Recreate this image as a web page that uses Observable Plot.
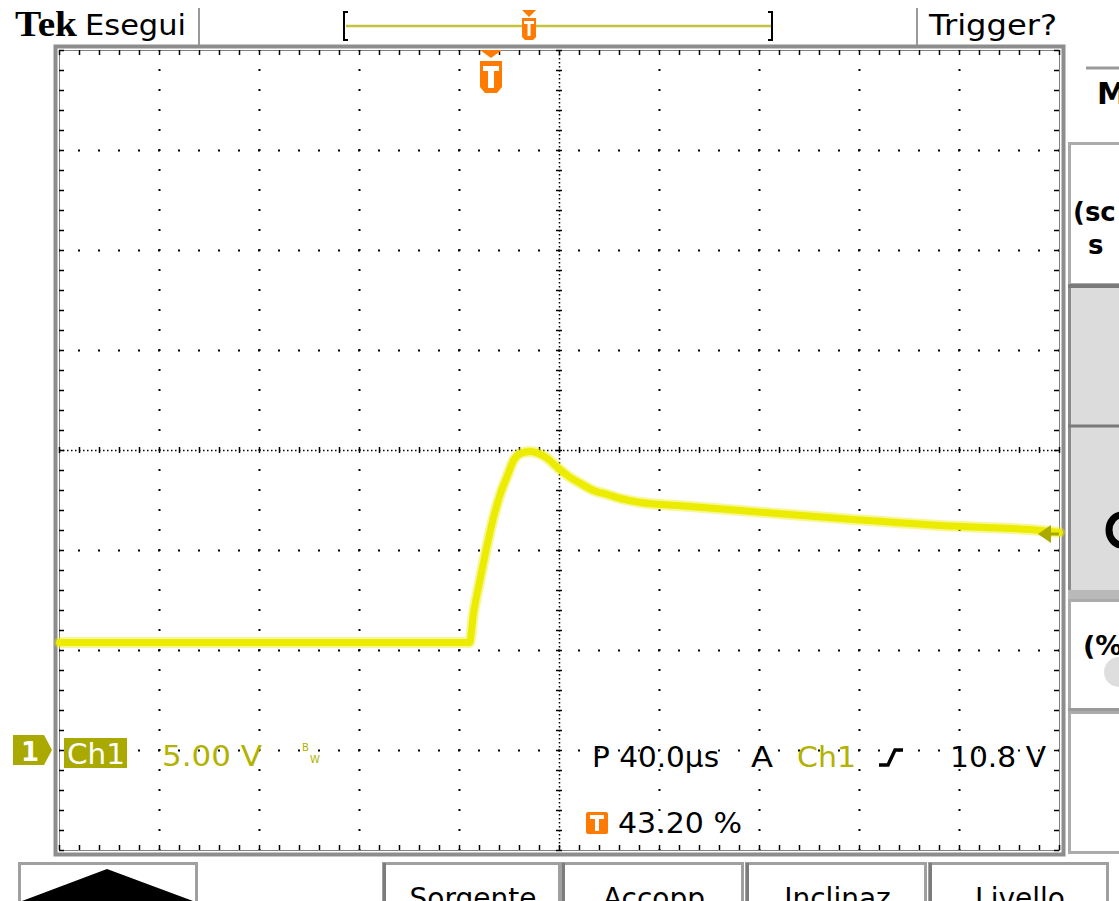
<!DOCTYPE html>
<html><head><meta charset="utf-8">
<script src="https://cdn.jsdelivr.net/npm/d3@7"></script>
<script src="https://cdn.jsdelivr.net/npm/@observablehq/plot@0.6"></script>
<style>
html,body{margin:0;padding:0;background:#fff;overflow:hidden}
#chart svg{display:block}
</style></head><body>
<div id="chart"></div>
<script>
// ---- data ----
// time since the left edge of the screen (µs), 40 µs/div
const timeUs = [0, 80, 164, 165.6, 168.4, 171.2, 173.6, 176.4, 179.2, 181.6, 184.4, 188.4, 191.6, 195.2, 199.2, 203.2, 208.4, 213.6, 219.2, 224.4, 232.4, 247.2, 272.4, 312.4, 352.4, 392.4, 400];
// channel 1 voltage (V), 5 V/div
const voltsV = [5.4, 5.4, 5.4, 6.85, 8.65, 10.35, 11.65, 12.85, 13.75, 14.5, 14.85, 14.95, 14.85, 14.6, 14.15, 13.75, 13.35, 13.0, 12.8, 12.6, 12.4, 12.25, 12.0, 11.6, 11.25, 11.0, 10.9];
const timeDomain = [0, 400];      // 10 div x 40 µs
const voltDomain = [-5, 35];      // 8 div x 5 V, ground 1 div above bottom
const triggerPercent = [43.2];
const triggerLevelV = [10.8];
const groundV = [0];
const topLabels = ["Tek", "Esegui", "Trigger?"];
const chLabels = ["1", "Ch1", "5.00 V"];
const trigLabels = ["P 40.0µs", "A", "Ch1", "10.8 V", "43.20 %"];
const menuButtons = ["Sorgente", "Accopp", "Inclinaz", "Livello"];
const sideMenu = ["M", "(sc", "s", "(%"];

const trace = timeUs.map((t, i) => ({t, v: voltsV[i]}));
const majorX = d3.range(timeDomain[0] + 40, timeDomain[1], 40).filter(d => d !== 200);
const majorY = d3.range(voltDomain[0] + 5, voltDomain[1], 5).filter(d => d !== 15);
const minorX = d3.range(timeDomain[0], timeDomain[1] + 0.01, 8);
const minorY = d3.range(voltDomain[0], voltDomain[1] + 0.01, 1);
const trigT = timeDomain[0] + (timeDomain[1] - timeDomain[0]) * triggerPercent[0] / 100;

const YEL = "#ecec00", OLIVE = "#a9a900", OLIVE_TXT = "#b2b200", ORANGE = "#ff7a00";

const plot = Plot.plot({
  width: 1119, height: 901,
  marginLeft: 59, marginRight: 60, marginTop: 50, marginBottom: 51,
  style: {background: "#fff", overflow: "hidden"},
  x: {domain: timeDomain, axis: null},
  y: {domain: voltDomain, axis: null},
  marks: [
    Plot.frame({stroke: "#8d8d8d", strokeWidth: 4, inset: -4}),
    Plot.frame({stroke: "#000", strokeDasharray: "1,1"}),
    Plot.gridX(majorX, {stroke: "#000", strokeOpacity: 1, strokeWidth: 2, strokeDasharray: "2,18", strokeDashoffset: 1}),
    Plot.gridY(majorY, {stroke: "#000", strokeOpacity: 1, strokeWidth: 2, strokeDasharray: "2,18", strokeDashoffset: 1}),
    Plot.ruleX([200], {stroke: "#000", strokeWidth: 1.5, strokeDasharray: "1.5,2.5"}),
    Plot.ruleY([15], {stroke: "#000", strokeWidth: 1.5, strokeDasharray: "1.5,2.5"}),
    Plot.ruleX(minorX, {x: d => d, y1: 14.85, y2: 15.15, stroke: "#000", strokeWidth: 1.5}),
    Plot.ruleY(minorY, {y: d => d, x1: 198.8, x2: 201.2, stroke: "#000", strokeWidth: 1.5}),
    Plot.ruleX(minorX, {x: d => d, y1: 35, y2: 34.75, stroke: "#000", strokeWidth: 1.5}),
    Plot.ruleX(minorX, {x: d => d, y1: -5, y2: -4.75, stroke: "#000", strokeWidth: 1.5}),
    Plot.ruleY(minorY, {y: d => d, x1: 0, x2: 2, stroke: "#000", strokeWidth: 1.5}),
    Plot.ruleY(minorY, {y: d => d, x1: 398, x2: 400, stroke: "#000", strokeWidth: 1.5}),
    Plot.line(trace, {x: "t", y: "v", stroke: YEL, strokeWidth: 11, strokeOpacity: 0.4, curve: "monotone-x"}),
    Plot.line(trace, {x: "t", y: "v", stroke: YEL, strokeWidth: 7, curve: "monotone-x"})
  ]
});
document.getElementById("chart").appendChild(plot);

const X = plot.scale("x"), Y = plot.scale("y");
const svg = d3.select(plot);
const SANS = "'DejaVu Sans', sans-serif";
function txt(s, x, y, o = {}) {
  return svg.append("text").attr("x", x).attr("y", y)
    .attr("text-anchor", o.anchor || "start")
    .attr("font-family", o.family || SANS).attr("font-size", o.size || 28)
    .attr("font-weight", o.weight || "normal").attr("fill", o.fill || "#000")
    .attr("textLength", o.len).attr("lengthAdjust", o.len ? "spacingAndGlyphs" : null)
    .text(s);
}
function rect(x, y, w, h, o = {}) {
  return svg.append("rect").attr("x", x).attr("y", y).attr("width", w).attr("height", h)
    .attr("fill", o.fill || "none").attr("stroke", o.stroke || "none").attr("stroke-width", o.sw || 0).attr("rx", o.rx || 0);
}
function path(d, o = {}) {
  return svg.append("path").attr("d", d).attr("fill", o.fill || "none").attr("stroke", o.stroke || "none").attr("stroke-width", o.sw || 0);
}

// ---- top status bar ----
txt(topLabels[0], 15, 36, {family: "'Liberation Serif', serif", weight: "bold", size: 36, len: 62});
txt(topLabels[1], 85, 35, {size: 29, len: 101});
path("M199,8 L199,45", {stroke: "#9a9a9a", sw: 2});
path("M917,8 L917,45", {stroke: "#9a9a9a", sw: 2});
txt(topLabels[2], 929, 35, {size: 29, len: 128});
path("M346,26 L771,26", {stroke: "#c4c43c", sw: 2.5});
path("M348,12 L344,12 L344,40 L348,40", {stroke: "#000", sw: 2});
path("M768,12 L772,12 L772,40 L768,40", {stroke: "#000", sw: 2});
// small trigger marker inside the record bar
const recX = 345 + (771 - 345) * triggerPercent[0] / 100;
path(`M${recX - 7},10 L${recX + 7},10 L${recX},17 Z`, {fill: ORANGE});
path(`M${recX - 7},18 L${recX + 7},18 L${recX + 7},37 L${recX + 4},40 L${recX - 4},40 L${recX - 7},37 Z`, {fill: ORANGE});
rect(recX - 5, 21, 10, 3, {fill: "#fff"});
rect(recX - 1.5, 21, 3, 15, {fill: "#fff"});

// ---- trigger position marker on the graticule ----
const tx = X.apply(trigT);
path(`M${tx - 11},50 L${tx + 11},50 L${tx},58 Z`, {fill: ORANGE});
path(`M${tx - 11},61 L${tx + 11},61 L${tx + 11},87 L${tx + 6},93 L${tx - 6},93 L${tx - 11},87 Z`, {fill: ORANGE});
rect(tx - 8, 66, 16, 5, {fill: "#fff"});
rect(tx - 3, 66, 6, 22, {fill: "#fff"});

// ---- channel ground marker ----
const gy = Y.apply(groundV[0]);
path(`M13,${gy - 15} L44,${gy - 15} L52,${gy} L44,${gy + 15} L13,${gy + 15} Z`, {fill: OLIVE});
txt(chLabels[0], 21, gy + 11, {size: 26, weight: "bold", fill: "#fff"});

// ---- trigger level marker ----
const ly = Y.apply(triggerLevelV[0]);
path(`M1038,${ly} L1051,${ly - 9} L1051,${ly + 9} Z`, {fill: OLIVE});
path(`M1050,${ly} L1059,${ly}`, {stroke: OLIVE, sw: 3});

// ---- on-screen readouts ----
rect(64, 738, 63, 30, {fill: OLIVE});
txt(chLabels[1], 67, 764, {size: 28, fill: "#fff", len: 58});
txt(chLabels[2], 162, 766, {size: 28, fill: OLIVE_TXT, len: 100});
txt("B", 302, 751, {size: 10, fill: OLIVE_TXT});
txt("W", 310, 763, {size: 10, fill: OLIVE_TXT});
txt(trigLabels[0], 592, 767, {size: 28, len: 127});
txt(trigLabels[1], 751, 767, {size: 28, len: 22});
txt(trigLabels[2], 797, 767, {size: 28, fill: OLIVE_TXT, len: 59});
path("M879,765 L888,765 L895,750 L903,750", {stroke: "#000", sw: 3.5});
txt(trigLabels[3], 950, 767, {size: 28, len: 96});
rect(586, 812, 22, 22, {fill: ORANGE, rx: 2});
rect(590, 815, 14, 4, {fill: "#fff"});
rect(595, 815, 4, 16, {fill: "#fff"});
txt(trigLabels[4], 618, 833, {size: 28, len: 124});

// ---- right side menu ----
path("M1086,68 L1119,68", {stroke: "#9a9a9a", sw: 3});
txt(sideMenu[0], 1097, 104, {size: 30, weight: "bold"});
rect(1069.5, 143.5, 60, 141, {fill: "#fff", stroke: "#ababab", sw: 3});
txt(sideMenu[1], 1073, 221, {size: 26, weight: "bold"});
txt(sideMenu[2], 1088, 254, {size: 26, weight: "bold"});
rect(1068, 284, 60, 312, {fill: "#dcdcdc"});
path("M1069.5,284 L1069.5,596", {stroke: "#8a8a8a", sw: 3});
path("M1068,286 L1119,286", {stroke: "#7a7a7a", sw: 4});
path("M1068,426 L1119,426", {stroke: "#7a7a7a", sw: 3});
rect(1068, 590, 60, 9, {fill: "#b9b9b9"});
svg.append("ellipse").attr("cx", 1122).attr("cy", 530).attr("rx", 13).attr("ry", 15)
  .attr("fill", "none").attr("stroke", "#000").attr("stroke-width", 7);
rect(1069.5, 600.5, 60, 109, {fill: "#fff", stroke: "#ababab", sw: 3});
txt(sideMenu[3], 1083, 655, {size: 27, weight: "bold"});
svg.append("circle").attr("cx", 1119).attr("cy", 672).attr("r", 15).attr("fill", "#dedede");
path("M1068,710 L1119,710", {stroke: "#9a9a9a", sw: 4});
rect(1069.5, 712.5, 60, 140, {fill: "#fff", stroke: "#ababab", sw: 3});

// ---- bottom soft keys ----
rect(19.5, 863.5, 177, 45, {fill: "#fff", stroke: "#a0a0a0", sw: 3});
path("M22,901 L107,869 L193,901 Z", {fill: "#000"});
const keyLefts = [383, 562, 746, 929], keyWidths = [176, 180, 179, 178];
menuButtons.forEach((s, i) => {
  rect(keyLefts[i] + 0.5, 863.5, keyWidths[i], 45, {fill: "#fff", stroke: "#a0a0a0", sw: 3});
  path(`M${keyLefts[i] + 1.5},863 L${keyLefts[i] + 1.5},901`, {stroke: "#7c7c7c", sw: 3});
  txt(s, keyLefts[i] + keyWidths[i] / 2 + 2, 908, {anchor: "middle", size: 28});
});
</script>
</body></html>
